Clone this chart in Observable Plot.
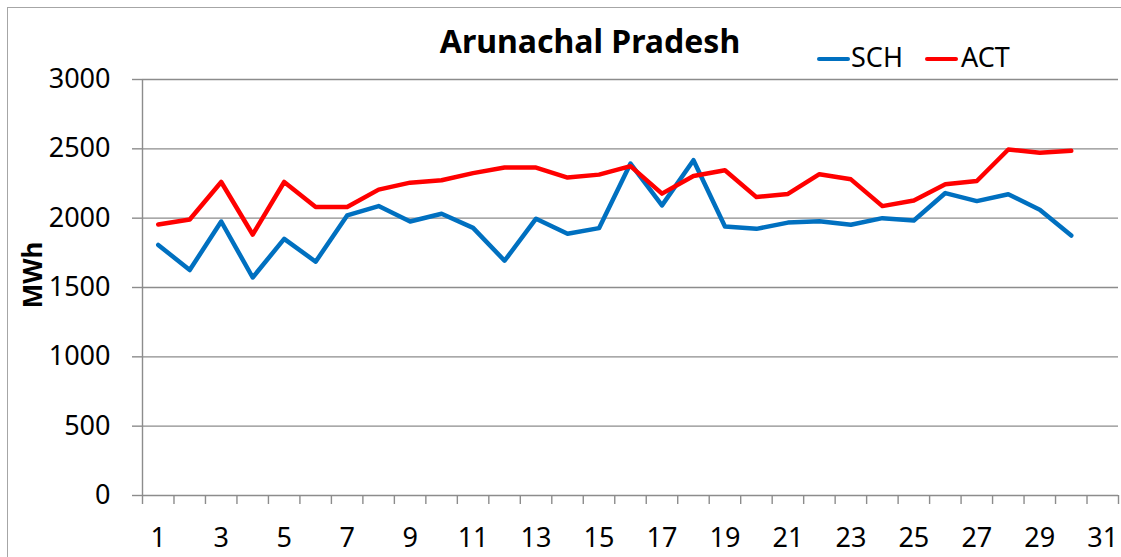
<!DOCTYPE html>
<html>
<head>
<meta charset="utf-8">
<script src="https://cdn.jsdelivr.net/npm/d3@7"></script>
<script src="https://cdn.jsdelivr.net/npm/@observablehq/plot@0.6"></script>
<style>
  html, body { margin: 0; padding: 0; background: #fff; overflow: hidden; }
  #wrap { position: relative; width: 1121px; height: 557px; overflow: hidden; font-family: "Noto Sans", "Open Sans", sans-serif; }
  #border { position: absolute; left: 7px; top: 7px; width: 1300px; height: 700px; border: 1px solid #a6a6a6; box-sizing: border-box; }
  #chart { position: absolute; left: 0; top: 0; }
  .title { position: absolute; left: 590px; top: 25px; transform: translateX(-50%); font-size: 32px; line-height: 32px; font-weight: bold; color: #000; white-space: nowrap; }
  .ylab { position: absolute; left: 32px; top: 275px; transform: translate(-50%, -50%) rotate(-90deg); font-size: 26px; line-height: 26px; font-weight: bold; white-space: nowrap; }
  .leg { position: absolute; font-size: 27px; line-height: 27px; top: 43px; white-space: nowrap; }
  .sw { position: absolute; height: 4px; width: 33px; top: 57px; border-radius: 2px; }
</style>
</head>
<body>
<div id="wrap">
  <div id="border"></div>
  <div id="chart"></div>
  <div class="title">Arunachal Pradesh</div>
  <div class="ylab">MWh</div>
</div>
<script>
// Data
const days = [1,2,3,4,5,6,7,8,9,10,11,12,13,14,15,16,17,18,19,20,21,22,23,24,25,26,27,28,29,30];
const sch = [1807,1626,1976,1572,1851,1686,2020,2087,1976,2032,1930,1693,1996,1887,1928,2394,2092,2418,1940,1923,1968,1978,1952,2000,1983,2181,2123,2172,2061,1875];
const act = [1955,1990,2261,1882,2261,2080,2080,2206,2256,2273,2325,2365,2365,2293,2314,2375,2177,2304,2346,2152,2175,2317,2280,2087,2128,2244,2268,2495,2471,2486];
const yTicks = [0,500,1000,1500,2000,2500,3000];
const xLabels = [1,3,5,7,9,11,13,15,17,19,21,23,25,27,29,31];
const xBoundaries = [0.5,1.5,2.5,3.5,4.5,5.5,6.5,7.5,8.5,9.5,10.5,11.5,12.5,13.5,14.5,15.5,16.5,17.5,18.5,19.5,20.5,21.5,22.5,23.5,24.5,25.5,26.5,27.5,28.5,29.5,30.5,31.5];
const seriesNames = ["SCH", "ACT"];
const seriesColors = ["#0070C0", "#FF0000"];

const rows = days.map((d, i) => ({day: d, sch: sch[i], act: act[i]}));
const grey = "#8c8c8c";

const chart = Plot.plot({
  width: 1121,
  height: 557,
  marginLeft: 142,
  marginRight: 3,
  marginTop: 79,
  marginBottom: 62,
  style: {fontFamily: "Noto Sans, Open Sans, sans-serif", background: "transparent", color: "#000"},
  x: {type: "linear", domain: [0.5, 31.5]},
  y: {domain: [0, 3000]},
  marks: [
    Plot.ruleY(yTicks, {stroke: grey, strokeWidth: 1.4}),
    Plot.ruleX([0.5], {y1: 0, y2: 3000, stroke: grey, strokeWidth: 1.4}),
    Plot.axisY({ticks: yTicks, tickSize: 10, tickPadding: 22, fontSize: 27, stroke: grey, strokeWidth: 1.4, fill: "#000", label: null, tickFormat: d => String(d)}),
    Plot.axisX({ticks: xBoundaries, tickSize: 9, tickFormat: () => "", stroke: grey, strokeWidth: 1.4, label: null}),
    Plot.axisX({ticks: xLabels, tickSize: 0, tickPadding: 32, fontSize: 27, fill: "#000", label: null, tickFormat: d => String(d)}),
    Plot.line(rows, {x: "day", y: "sch", stroke: seriesColors[0], strokeWidth: 4.5, strokeLinejoin: "round", strokeLinecap: "round"}),
    Plot.line(rows, {x: "day", y: "act", stroke: seriesColors[1], strokeWidth: 4.5, strokeLinejoin: "round", strokeLinecap: "round"})
  ]
});
document.getElementById("chart").appendChild(chart);

// Legend (HTML)
const wrap = document.getElementById("wrap");
const legendPos = [{sw: 817, tx: 851}, {sw: 925, tx: 961}];
seriesNames.forEach((name, i) => {
  const s = document.createElement("div");
  s.className = "sw";
  s.style.left = legendPos[i].sw + "px";
  s.style.background = seriesColors[i];
  wrap.appendChild(s);
  const t = document.createElement("div");
  t.className = "leg";
  t.style.left = legendPos[i].tx + "px";
  t.textContent = name;
  wrap.appendChild(t);
});
</script>
</body>
</html>
